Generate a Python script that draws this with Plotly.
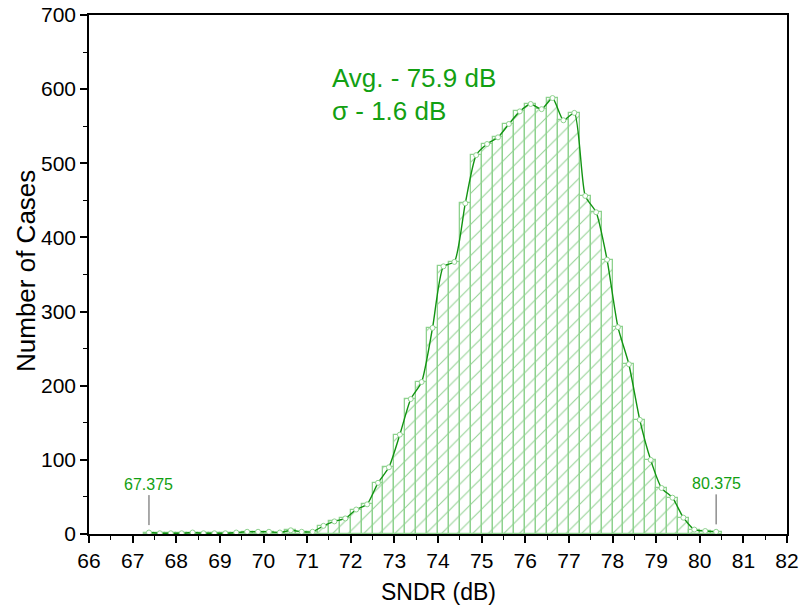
import plotly.graph_objects as go

bin_centers = [67.375, 67.625, 67.875, 68.125, 68.375, 68.625, 68.875, 69.125, 69.375, 69.625,
               69.875, 70.125, 70.375, 70.625, 70.875, 71.125, 71.375, 71.625, 71.875, 72.125,
               72.375, 72.625, 72.875, 73.125, 73.375, 73.625, 73.875, 74.125, 74.375, 74.625,
               74.875, 75.125, 75.375, 75.625, 75.875, 76.125, 76.375, 76.625, 76.875, 77.125,
               77.375, 77.625, 77.875, 78.125, 78.375, 78.625, 78.875, 79.125, 79.375, 79.625,
               79.875, 80.125, 80.375]
counts = [2, 1, 1, 1, 2, 1, 1, 1, 2, 3,
          3, 3, 2, 5, 3, 3, 11, 17, 21, 33,
          40, 69, 90, 134, 182, 205, 278, 361, 367, 446,
          511, 526, 535, 553, 570, 580, 573, 588, 558, 568,
          456, 434, 370, 279, 229, 154, 100, 62, 49, 22,
          6, 4, 3]
bin_width = 0.25
x_ticks = list(range(66, 83))
y_ticks = list(range(0, 701, 100))
stat_lines = ["Avg. - 75.9 dB", "σ - 1.6 dB"]
edge_labels = [67.375, 80.375]
edge_values = [2, 3]
x_title = "SNDR (dB)"
y_title = "Number of Cases"

GREEN = "#129412"
TXT_GREEN = "#12a012"
FONT = "Liberation Sans, Arial"

W, H = 802, 607
L, R, T, B = 89, 787, 15, 534
PW, PH = R - L, B - T

fig = go.Figure()
fig.add_trace(go.Bar(
    x=bin_centers, y=counts, width=[bin_width] * len(counts),
    marker=dict(color="white",
                line=dict(color="#8ed28e", width=1.3),
                pattern=dict(shape="/", fgcolor="#2fa82f", bgcolor="white", size=11, solidity=0.1)),
    showlegend=False, hoverinfo="skip"))
fig.add_trace(go.Scatter(
    x=bin_centers, y=counts, mode="lines+markers",
    line=dict(color=GREEN, width=1.4, shape="spline", smoothing=0.6),
    marker=dict(symbol="circle", size=5, color="white", line=dict(color="#8ed28e", width=1)),
    showlegend=False))

for txt, py in zip(stat_lines, [78, 111]):
    fig.add_annotation(xref="paper", yref="paper", x=(330 - L) / PW, y=(B - py) / PH,
                       text=txt, showarrow=False, xanchor="left", yanchor="middle",
                       font=dict(family=FONT, size=26, color=TXT_GREEN))

for xv, yv in zip(edge_labels, edge_values):
    fig.add_annotation(x=xv, y=yv + 10, ax=0, ay=-30, text=f"{xv:.3f}", showarrow=True,
                       arrowhead=0, arrowwidth=1, arrowcolor="#555555", standoff=0,
                       yanchor="bottom",
                       font=dict(family=FONT, size=16, color=TXT_GREEN))

fig.add_annotation(xref="paper", yref="paper", x=(26 - L) / PW, y=(B - 271) / PH,
                   text=y_title, textangle=-90, showarrow=False, xanchor="center", yanchor="middle",
                   font=dict(family=FONT, size=26, color="black"))
fig.add_annotation(xref="paper", yref="paper", x=(438 - L) / PW, y=(B - 592) / PH,
                   text=x_title, showarrow=False, xanchor="center", yanchor="middle",
                   font=dict(family=FONT, size=23, color="black"))

axis_font = dict(family=FONT, size=21, color="black")
fig.update_layout(
    width=W, height=H,
    margin=dict(l=L, r=W - R, t=T, b=H - B),
    paper_bgcolor="white", plot_bgcolor="white",
    bargap=0,
    xaxis=dict(range=[66, 82], tickvals=x_ticks, ticktext=[str(v) for v in x_ticks],
               automargin=False,
               showline=True, linecolor="black", linewidth=1.5, mirror=True,
               ticks="outside", ticklen=7, tickwidth=1.5, tickcolor="black",
               minor=dict(dtick=0.5, tick0=66, ticks="outside", ticklen=4, tickwidth=1.2, tickcolor="black"),
               showgrid=False, zeroline=False, tickfont=axis_font),
    yaxis=dict(range=[0, 700], tickvals=y_ticks, ticktext=[str(v) for v in y_ticks],
               automargin=False,
               showline=True, linecolor="black", linewidth=1.5, mirror=True,
               ticks="outside", ticklen=7, tickwidth=1.5, tickcolor="black",
               minor=dict(dtick=50, tick0=0, ticks="outside", ticklen=4, tickwidth=1.2, tickcolor="black"),
               showgrid=False, zeroline=False, tickfont=axis_font),
)

fig.write_html("out.html", config={"displayModeBar": False},
               post_script="document.body.style.margin='0';document.body.style.overflow='hidden';")
